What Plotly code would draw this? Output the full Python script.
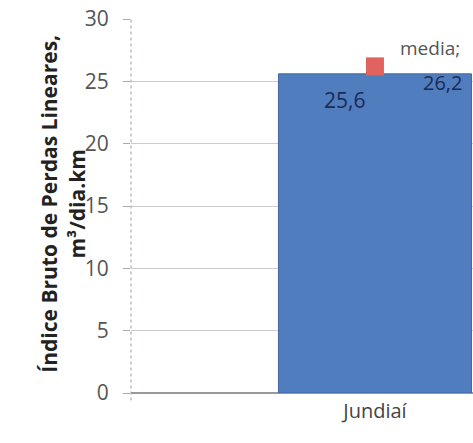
import plotly.graph_objects as go

categories = ["Jundiaí"]
values = [25.6]
media_name = "media"
media_value = [26.2]
y_ticks = [0, 5, 10, 15, 20, 25, 30]

def fmt(v):
    return f"{v:.1f}".replace(".", ",")

fig = go.Figure()
fig.add_trace(go.Bar(
    x=[0], y=values, width=0.5,
    marker=dict(color="#507dbd", line=dict(color="#3f67a4", width=1)),
    showlegend=False, hoverinfo="skip",
))
fig.add_trace(go.Scatter(
    x=[0], y=media_value, mode="markers",
    marker=dict(symbol="square", size=18, color="#e0635f", line=dict(width=0)),
    showlegend=False, hoverinfo="skip",
))

fig.add_annotation(x=-0.08, y=values[0] - 2.1, text=fmt(values[0]), showarrow=False,
                   font=dict(family="Open Sans", size=21, color="#1c2a55"))
fig.add_annotation(x=0.143, y=media_value[0] + 1.5, text=media_name + ";", showarrow=False,
                   font=dict(family="Open Sans", size=19, color="#555555"))
fig.add_annotation(x=0.174, y=media_value[0] - 1.3, text=fmt(media_value[0]), showarrow=False,
                   font=dict(family="Open Sans", size=20, color="#1c2a55"))

# y-axis title as rotated annotation
fig.add_annotation(xref="paper", yref="paper", x=-0.2, y=0.505, textangle=-90,
                   xanchor="center", yanchor="middle",
                   text="<b>Índice Bruto de Perdas Lineares,<br>m³/dia.km</b>",
                   showarrow=False, font=dict(family="Open Sans", size=21, color="#222222"))

fig.add_shape(type="line", xref="paper", yref="paper", x0=0, x1=0, y0=-0.02, y1=1,
              line=dict(color="#8e9cc0", width=1, dash="dot"))

fig.update_layout(
    width=473, height=443,
    margin=dict(l=131, r=0, t=19, b=50),
    paper_bgcolor="white", plot_bgcolor="white",
    font=dict(family="Open Sans", color="#555555"),
    xaxis=dict(
        range=[-0.632, 0.254], tickvals=[0], ticktext=categories,
        showgrid=False, zeroline=False, showline=False,
        tickfont=dict(size=20, color="#444444"), ticks="", ticklabelstandoff=4,
    ),
    yaxis=dict(
        range=[0, 30], tickvals=y_ticks,
        showgrid=True, gridcolor="#cccccc", gridwidth=1,
        zeroline=True, zerolinecolor="#999999",
        showline=False,
        ticks="outside", ticklen=7, tickcolor="#aaaaaa",
        ticklabelstandoff=10,
        tickfont=dict(size=21, color="#555555"),
    ),
)
fig.write_html("out.html")
